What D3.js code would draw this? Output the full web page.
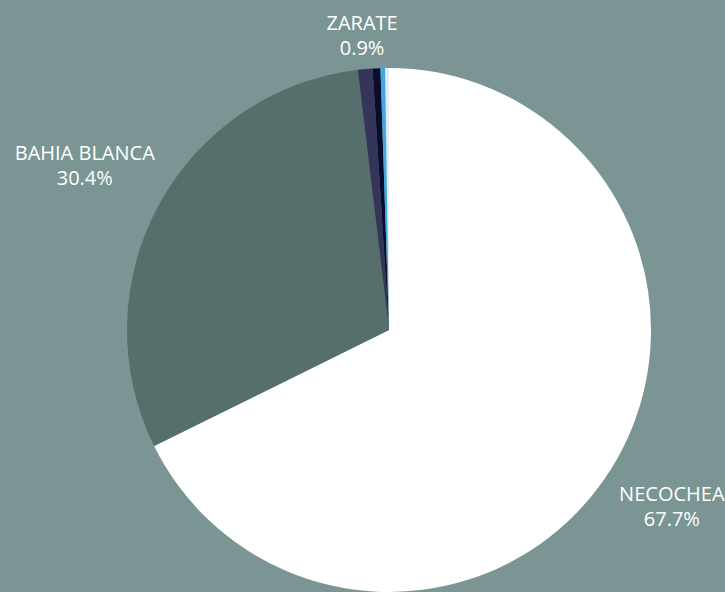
<!DOCTYPE html>
<html>
<head>
<meta charset="utf-8">
<script src="https://cdn.jsdelivr.net/npm/d3@7"></script>
<style>
  html, body { margin: 0; padding: 0; background: #7a9593; }
  svg { display: block; }
</style>
</head>
<body>
<svg id="chart"></svg>
<script>
const width = 725;
const height = 592;
const radius = 262;
const center = {x: 389, y: 330};

// slice data, clockwise from 12 o'clock
const categories = ["NECOCHEA", "BAHIA BLANCA", "ZARATE", "OTRO 1", "OTRO 2", "OTRO 3"];
const shares = [67.7, 30.4, 0.9, 0.48, 0.28, 0.24];
const colors = ["#ffffff", "#566e6c", "#35355a", "#0a0c2c", "#41a8e0", "#e4ebf2"];
const labelled = ["NECOCHEA", "BAHIA BLANCA", "ZARATE"];

// how far out each label sits (best-fit style)
const labelRadius = {"NECOCHEA": 333, "BAHIA BLANCA": 346, "ZARATE": 296};

const svg = d3.select("#chart")
    .attr("width", width)
    .attr("height", height);

svg.append("rect")
    .attr("width", width)
    .attr("height", height)
    .attr("fill", "#7a9593");

const g = svg.append("g")
    .attr("transform", "translate(" + center.x + "," + center.y + ")");

const pie = d3.pie()
    .value(d => d.value)
    .sort(null);

const data = categories.map((c, i) => ({name: c, value: shares[i], color: colors[i]}));
const arcs = pie(data);

const arc = d3.arc()
    .innerRadius(0)
    .outerRadius(radius);

g.selectAll("path.slice")
    .data(arcs)
    .enter()
    .append("path")
    .attr("class", "slice")
    .attr("d", arc)
    .attr("fill", d => d.data.color);

const fmt = d3.format(".1f");

const labels = g.selectAll("text.label")
    .data(arcs.filter(d => labelled.includes(d.data.name)))
    .enter()
    .append("text")
    .attr("class", "label")
    .attr("text-anchor", "middle")
    .attr("font-family", "'Open Sans', sans-serif")
    .attr("font-size", 20)
    .attr("fill", "#ffffff")
    .attr("transform", d => {
        const r = labelRadius[d.data.name];
        const a = (d.startAngle + d.endAngle) / 2;
        return "translate(" + (r * Math.sin(a)) + "," + (-r * Math.cos(a)) + ")";
    });

labels.append("tspan")
    .attr("x", 0)
    .attr("y", -5)
    .text(d => d.data.name);

labels.append("tspan")
    .attr("x", 0)
    .attr("y", 20)
    .text(d => fmt(d.data.value) + "%");
</script>
</body>
</html>
